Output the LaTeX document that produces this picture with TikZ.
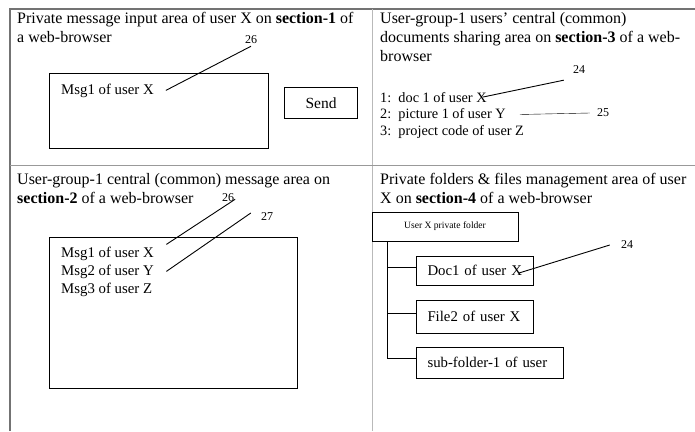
\documentclass[tikz,border=0pt]{standalone}
\usepackage{fontspec}
\setmainfont{Liberation Serif}
\begin{document}
\begin{tikzpicture}[x=1pt,y=-1pt,
    every node/.style={font=\fontsize{14.8}{18.5}\selectfont},
    heading/.style={anchor=base west,align=left,inner sep=0pt,font=\fontsize{16}{18.7}\selectfont},
    item/.style={anchor=base west,inner sep=0pt},
    box/.style={draw,line width=1pt},
    filebox/.style={box,anchor=west,align=left,inner xsep=11pt,text width=#1},
    leader/.style={line width=0.9pt},
    refnum/.style={inner sep=1pt,font=\fontsize{12}{14}\selectfont}]
\useasboundingbox (0,0) rectangle (695,431);
% outer frame and the four sections
\draw[gray!90!black,line width=1.2pt] (10,431) -- (10,9) -- (695,9);
\draw[gray!55,line width=1pt] (372,9) -- (372,431);
\draw[gray!80,line width=1pt] (10,165) -- (695,165);

% section-1: private input
\node[heading] (head1) at (17,42) {Private message input area of user X on \textbf{section-1} of\\a web-browser};
\node[box,minimum width=219pt,minimum height=75pt] (inbox) at (158.5,110.5) {};
\node[item] (msgone) at (61,94) {Msg1 of user X};
\node[box,minimum width=73pt,minimum height=31pt,font=\fontsize{15.5}{18}\selectfont] (send) at (321,103) {Send};
\node[refnum] (ref26a) at (251,40) {26};
\draw[leader] ([xshift=12pt]msgone.east) -- ([yshift=-1pt]ref26a.south);

% section-3: shared documents
\node[heading] (head3) at (380,61) {User-group-1 users' central (common)\\documents sharing area on \textbf{section-3} of a web-\\browser};
\begin{scope}[every node/.append style={font=\fontsize{14.3}{17}\selectfont}]
\node[item] (doc1) at (380,102) {1:\ \ doc 1 of user X};
\node[item] (pic1) at (380,118) {2:\ \ picture 1 of user Y};
\node[item] (code1) at (380,135) {3:\ \ project code of user Z};
\end{scope}
\node[refnum] (ref24a) at (579,70) {24};
\node[refnum] (ref25) at (603,113) {25};
\draw[leader] ([xshift=-4pt]doc1.east) -- ([xshift=-8pt,yshift=-5pt]ref24a.south west);
\draw ([xshift=14pt]pic1.east) -- ([xshift=-6pt]ref25.west);

% section-2: common messages
\node[heading] (head2) at (17,203) {User-group-1 central (common) message area on\\\textbf{section-2} of a web-browser};
\node[box,minimum width=248pt,minimum height=151pt] (msgbox) at (173,312.5) {};
\node[item] (msgx) at (61,257) {Msg1 of user X};
\node[item] (msgy) at (61,275) {Msg2 of user Y};
\node[item] (msgz) at (61,293) {Msg3 of user Z};
\node[refnum] (ref26b) at (228,198) {26};
\node[refnum] (ref27) at (267,217) {27};
\draw[leader] ([xshift=12.5pt,yshift=2pt]msgx.north east) -- ([yshift=4pt]ref26b.south east);
\draw[leader] ([xshift=12.5pt]msgy.east) -- ([xshift=-9pt,yshift=4pt]ref27.west);

% section-4: private folder tree
\node[heading] (head4) at (380,203) {Private folders \& files management area of user\\X on \textbf{section-4} of a web-browser};
\node[box,minimum width=146pt,minimum height=29pt,font=\fontsize{9.6}{11}\selectfont] (root) at (445,226.5) {User X private folder};
\node[filebox=95pt,minimum height=29pt] (docx) at (416,270.5) {Doc1 of user X};
\node[filebox=95pt,minimum height=33pt] (filex) at (416,316.5) {File2 of user X};
\node[filebox=125pt,minimum height=31pt] (subx) at (416,362.5) {sub-folder-1 of user};
\coordinate (trunk) at (387,241);
\draw[line width=0.8pt] (trunk) |- ([yshift=4.5pt]subx.west);
\draw[line width=0.8pt] (trunk |- docx.west) ++(0,-3.5) -- ([yshift=3.5pt]docx.west);
\draw[line width=0.8pt] (trunk |- filex.west) ++(0,-3.5) -- ([yshift=3.5pt]filex.west);
\node[refnum] (ref24b) at (627,245) {24};
\draw[leader] ([xshift=-15pt,yshift=-2.5pt]docx.east) -- ([xshift=-10pt]ref24b.west);
\end{tikzpicture}
\end{document}
